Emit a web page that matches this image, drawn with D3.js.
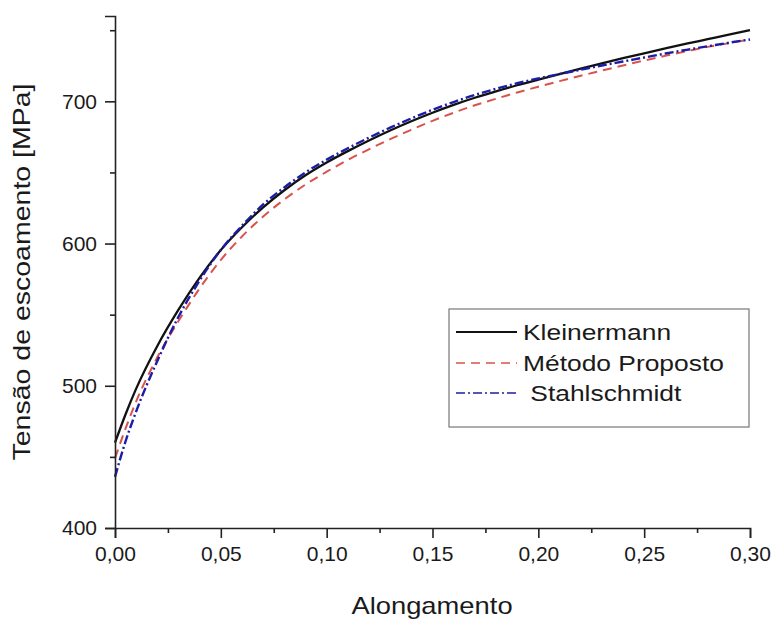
<!DOCTYPE html>
<html>
<head>
<meta charset="utf-8">
<script src="https://cdn.jsdelivr.net/npm/d3@7"></script>
<style>
  body { margin: 0; background: #fff; }
  text { font-family: "Liberation Sans", Arial, sans-serif; fill: #1a1a1a; }
</style>
</head>
<body>
<svg id="chart" width="773" height="624"></svg>
<script>
// strain values (Alongamento)
const strain = [0, 0.005, 0.01, 0.02, 0.03, 0.04, 0.05, 0.06, 0.07, 0.08, 0.09, 0.10,
  0.11, 0.12, 0.13, 0.14, 0.15, 0.16, 0.17, 0.18, 0.19, 0.20,
  0.21, 0.22, 0.23, 0.24, 0.25, 0.26, 0.27, 0.28, 0.29, 0.30];

// yield stress [MPa] for each curve
const kleinermann = [460, 480, 498, 528, 553.5, 576, 595.5, 611.5, 625.5, 637.5, 648, 657,
  665, 672.5, 679.5, 686, 692, 697.5, 702.5, 707, 711.3, 715.3,
  719.2, 723, 726.7, 730.3, 733.8, 737.2, 740.5, 743.7, 746.9, 750];
const metodoProposto = [449, 470, 489, 520, 545.5, 568.5, 588.5, 605, 619, 631, 641.5, 650.5,
  658.8, 666.3, 673.4, 680, 686.3, 692, 697.2, 701.8, 706.2, 710.3,
  714.2, 718, 721.6, 725.2, 728.7, 732, 735.2, 738.3, 740.9, 743.5];
const stahlschmidt = [436, 461, 482, 517.5, 548.5, 574, 595.5, 612.5, 627.5, 639.5, 650, 659,
  667, 674.5, 681.5, 688, 694, 699.5, 704.5, 708.8, 712.7, 716.1,
  719.2, 722.2, 725.2, 728, 730.8, 733.6, 736.2, 738.7, 741.2, 743.5];

const seriesNames = ["Kleinermann", "Método Proposto", " Stahlschmidt"];

const xMajor = [0, 0.05, 0.10, 0.15, 0.20, 0.25, 0.30];
const xMinor = [0.025, 0.075, 0.125, 0.175, 0.225, 0.275];
const yMajor = [400, 500, 600, 700];
const yMinor = [450, 550, 650, 750];

const svg = d3.select("#chart");

const x = d3.scaleLinear().domain([0, 0.30]).range([115, 750]);
const y = d3.scaleLinear().domain([400, 760]).range([528, 16]);

const fmt = d => d3.format(".2f")(d).replace(".", ",");

// series styles
const styles = [
  { data: kleinermann, color: "#111", width: 2.3, dash: null },
  { data: metodoProposto, color: "#d9534a", width: 2, dash: "9,6" },
  { data: stahlschmidt, color: "#1c1ca8", width: 2.4, dash: "9,3,2,3" }
];

const line = d3.line()
  .x(d => x(d[0]))
  .y(d => y(d[1]))
  .curve(d3.curveMonotoneX);

styles.forEach(s => {
  svg.append("path")
    .datum(strain.map((e, i) => [e, s.data[i]]))
    .attr("fill", "none")
    .attr("stroke", s.color)
    .attr("stroke-width", s.width)
    .attr("stroke-dasharray", s.dash)
    .attr("d", line);
});

// Axes
svg.append("g")
  .attr("transform", "translate(0,528)")
  .call(d3.axisBottom(x).tickValues(xMajor).tickFormat(fmt).tickSize(10).tickPadding(8));
svg.append("g")
  .attr("transform", "translate(0,528)")
  .call(d3.axisBottom(x).tickValues(xMinor).tickFormat("").tickSize(5))
  .select(".domain").remove();

svg.append("g")
  .attr("transform", "translate(115,0)")
  .call(d3.axisLeft(y).tickValues(yMajor).tickFormat(d3.format("d")).tickSize(10).tickPadding(8));
svg.append("g")
  .attr("transform", "translate(115,0)")
  .call(d3.axisLeft(y).tickValues(yMinor).tickFormat("").tickSize(5))
  .select(".domain").remove();

svg.selectAll(".domain").attr("stroke", "#222").attr("stroke-width", 1.6);
svg.selectAll(".tick line").attr("stroke", "#222").attr("stroke-width", 1.6);
svg.selectAll(".tick text")
  .attr("font-size", 21)
  .attr("font-family", "Liberation Sans, Arial, sans-serif")
  .attr("fill", "#1a1a1a");

// Axis titles (stretched horizontally like the source image)
svg.append("text")
  .attr("transform", "translate(432,614) scale(1.19,1)")
  .attr("text-anchor", "middle")
  .attr("font-size", 23)
  .text("Alongamento");

svg.append("text")
  .attr("transform", "translate(30,272) rotate(-90) scale(1.24,1)")
  .attr("text-anchor", "middle")
  .attr("font-size", 23)
  .text("Tensão de escoamento [MPa]");

// Legend
const legend = svg.append("g");
legend.append("rect")
  .attr("x", 449).attr("y", 309)
  .attr("width", 300).attr("height", 118)
  .attr("fill", "#fff")
  .attr("stroke", "#777")
  .attr("stroke-width", 1.2);

const legendY = [332, 363, 393];
styles.forEach((s, i) => {
  legend.append("line")
    .attr("x1", 456).attr("x2", 517)
    .attr("y1", legendY[i]).attr("y2", legendY[i])
    .attr("stroke", s.color)
    .attr("stroke-width", i === 0 ? 2.2 : 1.7)
    .attr("stroke-dasharray", s.dash);
  legend.append("text")
    .attr("transform", `translate(523,${legendY[i]}) scale(1.2,1)`)
    .attr("dy", "0.36em")
    .attr("font-size", 22)
    .attr("xml:space", "preserve")
    .style("white-space", "pre")
    .text(seriesNames[i]);
});
</script>
</body>
</html>
